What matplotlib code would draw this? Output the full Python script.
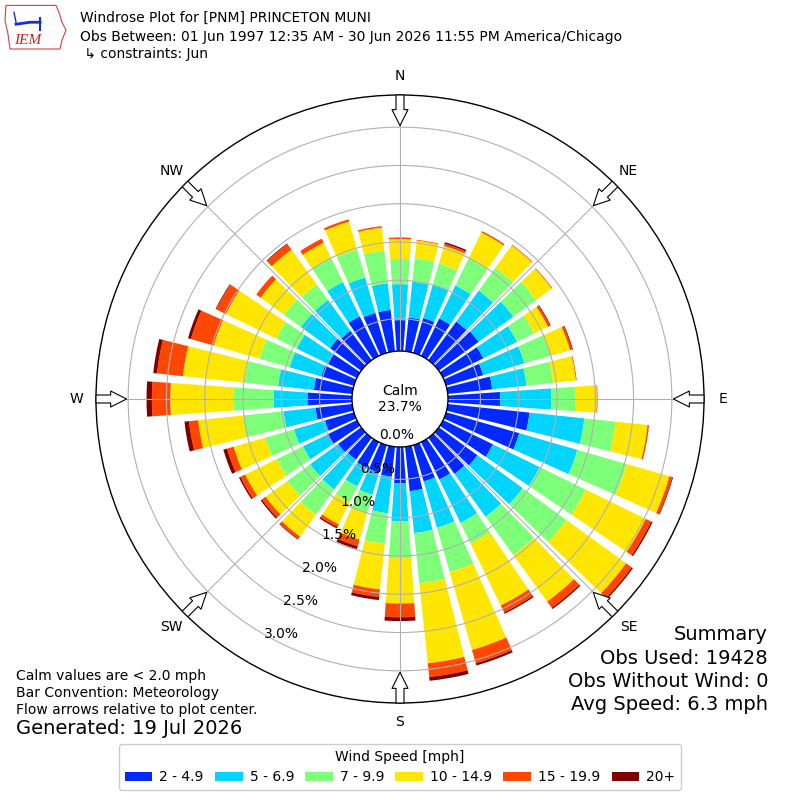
import numpy as np
import matplotlib
matplotlib.use("Agg")
import matplotlib.pyplot as plt
from matplotlib.patches import Rectangle, Circle, Polygon

#####################################

directions = np.arange(0, 360, 10)
speed_bins = ["2 - 4.9", "5 - 6.9", "7 - 9.9", "10 - 14.9", "15 - 19.9", "20+"]

# percent of observations per 10 deg direction bin, one list per speed bin
pct_2_5 = [0.48, 0.52, 0.55, 0.62, 0.70, 0.72, 0.66, 0.58, 0.66, 0.76,
           1.15, 1.07, 0.80, 0.70, 0.66, 0.62, 0.57, 0.66, 0.55, 0.47,
           0.45, 0.45, 0.43, 0.45, 0.51, 0.47, 0.56, 0.66, 0.58, 0.52,
           0.50, 0.58, 0.55, 0.65, 0.62, 0.62]
pct_5_7 = [0.47, 0.47, 0.46, 0.48, 0.50, 0.56, 0.49, 0.56, 0.45, 0.67,
           0.72, 0.79, 0.68, 0.73, 0.69, 0.63, 0.63, 0.55, 0.50, 0.48,
           0.30, 0.27, 0.48, 0.45, 0.35, 0.42, 0.42, 0.44, 0.47, 0.43,
           0.45, 0.47, 0.50, 0.50, 0.48, 0.35]
pct_7_10 = [0.33, 0.31, 0.28, 0.40, 0.37, 0.37, 0.25, 0.36, 0.35, 0.31,
            0.41, 0.67, 0.67, 0.71, 0.62, 0.30, 0.60, 0.66, 0.48, 0.40,
            0.25, 0.23, 0.41, 0.37, 0.38, 0.39, 0.53, 0.53, 0.44, 0.41,
            0.30, 0.27, 0.25, 0.35, 0.38, 0.43]
pct_10_15 = [0.26, 0.23, 0.24, 0.37, 0.36, 0.25, 0.20, 0.26, 0.30, 0.28,
             0.42, 0.58, 0.87, 0.96, 0.75, 0.90, 1.06, 1.05, 0.59, 0.60,
             0.36, 0.32, 0.35, 0.35, 0.46, 0.43, 0.59, 0.82, 0.81, 0.62,
             0.73, 0.38, 0.56, 0.22, 0.38, 0.30]
pct_15_20 = [0.02, 0.01, 0.03, 0.02, 0.01, 0.01, 0.03, 0.03, 0.01, 0.01,
             0.02, 0.04, 0.08, 0.09, 0.10, 0.10, 0.18, 0.18, 0.18, 0.10,
             0.09, 0.04, 0.04, 0.06, 0.07, 0.09, 0.12, 0.24, 0.34, 0.31,
             0.14, 0.07, 0.09, 0.06, 0.03, 0.02]
pct_20up = [0.00, 0.00, 0.02, 0.00, 0.00, 0.00, 0.01, 0.01, 0.00, 0.00,
            0.00, 0.01, 0.02, 0.02, 0.02, 0.02, 0.03, 0.05, 0.05, 0.04,
            0.04, 0.02, 0.01, 0.02, 0.02, 0.05, 0.06, 0.07, 0.05, 0.04,
            0.01, 0.00, 0.01, 0.00, 0.00, 0.00]

calm_pct = 23.7
rings = [0.0, 0.5, 1.0, 1.5, 2.0, 2.5, 3.0]
compass = ["N", "NE", "E", "SE", "S", "SW", "W", "NW"]

title_lines = ["Windrose Plot for [PNM] PRINCETON MUNI",
               "Obs Between: 01 Jun 1997 12:35 AM - 30 Jun 2026 11:55 PM America/Chicago",
               " \u21b3 constraints: Jun"]
summary_lines = ["Summary", "Obs Used: 19428", "Obs Without Wind: 0",
                 "Avg Speed: 6.3 mph"]
note_lines = ["Calm values are < 2.0 mph", "Bar Convention: Meteorology",
              "Flow arrows relative to plot center."]
generated = "Generated: 19 Jul 2026"

####################################

colors = plt.cm.jet(np.arange(1, 7) / 6.0)
series = [pct_2_5, pct_5_7, pct_7_10, pct_10_15, pct_15_20, pct_20up]

RMAX = 3.42
RORIGIN = -0.55

fig = plt.figure(figsize=(8, 8), dpi=100)
ax = fig.add_axes([0.12, 0.12125, 0.76, 0.76], projection="polar")
ax.set_theta_zero_location("N")
ax.set_theta_direction(-1)

theta = np.radians(directions)
bottom = np.zeros(len(directions))
for vals, c in zip(series, colors):
    vals = np.array(vals)
    ax.bar(theta, vals, width=np.radians(8), bottom=bottom, color=c,
           linewidth=0, zorder=1)
    bottom += vals

ax.set_rorigin(RORIGIN)
ax.set_ylim(0, RMAX)
ax.set_yticks(rings[1:])
ax.set_yticklabels([])
ax.set_xticks(np.radians(np.arange(0, 360, 45)))
ax.set_xticklabels([])
ax.grid(True, color="#b0b0b0", lw=0.8)
ax.spines["polar"].set_linewidth(1.0)
ax.spines["inner"].set_visible(False)

# calm circle in the middle
calm = Circle((0.5, 0.5), 48 / 608.0, transform=ax.transAxes, fc="white",
              ec="black", lw=1.0, zorder=4, clip_on=False)
ax.add_patch(calm)
ax.text(0.5, 0.5, f"Calm\n{calm_pct:.1f}%", transform=ax.transAxes,
        ha="center", va="center", fontsize=10, zorder=6)

# ring labels
for v in rings:
    ax.text(np.radians(210), v, f"{v:.1f}%", ha="left", va="center",
            fontsize=10, zorder=6)

# compass labels and flow arrows
for i, lab in enumerate(compass):
    th = np.radians(i * 45)
    ax.text(th, 3.67, lab, ha="center", va="center", fontsize=10)
    ax.annotate("", xy=(th, RMAX - 0.40), xytext=(th, RMAX),
                arrowprops=dict(arrowstyle="simple,head_length=1.0,head_width=1.0,tail_width=0.5",
                                fc="white", ec="black", lw=0.8,
                                shrinkA=0, shrinkB=0, mutation_scale=11.5),
                annotation_clip=False, zorder=7)

# header text
for i, line in enumerate(title_lines):
    fig.text(0.1, 1 - [18, 37, 54][i] / 800.0, line, ha="left", va="center",
             fontsize=10)

# IEM logo
lax = fig.add_axes([0.005, 0.935, 0.08, 0.062])
lax.set_xlim(0, 64)
lax.set_ylim(0, 50)
lax.axis("off")
lax.add_patch(Polygon([(2, 47), (52, 47), (55, 40), (58, 30), (62, 22),
                       (58, 12), (56, 3), (6, 3), (4, 18), (1, 32)],
                      closed=True, fc="white", ec="#d04040", lw=0.8))
lax.text(24, 12, "IEM", color="#d02020", fontsize=11, style="italic",
         family="Liberation Serif", ha="center", va="center")
lax.plot([12, 26, 36], [28, 30, 30], color="#1a2ad8", lw=2)
lax.plot([36, 36], [22, 34], color="#1a2ad8", lw=1.5)
lax.plot([10, 12], [40, 30], color="#1a2ad8", lw=1)

# summary and notes
for i, line in enumerate(summary_lines):
    fig.text(0.96, 1 - (635 + 23.3 * i) / 800.0, line, ha="right",
             va="center", fontsize=14)
for i, line in enumerate(note_lines):
    fig.text(0.02, 1 - (676 + 17 * i) / 800.0, line, ha="left", va="center",
             fontsize=10)
fig.text(0.02, 1 - 729 / 800.0, generated, ha="left", va="center",
         fontsize=14)

handles = [Rectangle((0, 0), 1, 1, fc=c, lw=0) for c in colors]
fig.legend(handles, speed_bins, loc="lower center",
           bbox_to_anchor=(0.5, 0.0125), borderaxespad=0, ncol=6,
           title="Wind Speed [mph]", fontsize=10, title_fontsize=10,
           handlelength=2.0, handleheight=0.7, handletextpad=0.5,
           columnspacing=0.8, framealpha=1)

fig.savefig("out.png", dpi=100)
